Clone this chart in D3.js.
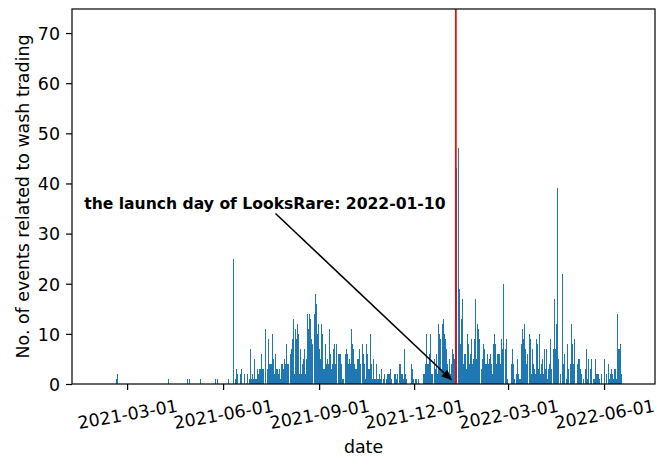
<!DOCTYPE html>
<html lang="en">
<head>
<meta charset="UTF-8">
<title>Wash trading events per day</title>
<script src="https://d3js.org/d3.v7.min.js"></script>
<style>
  body { margin: 0; background: #fff; }
  svg text { font-family: "DejaVu Sans", sans-serif; fill: #000; }
</style>
</head>
<body>
<svg id="chart" width="663" height="459"></svg>
<script>
// days covered by the daily series (zero days included)
const seriesStart = "2021-02-02", seriesEnd = "2022-06-24";

// sparse early days
const earlyDates = ["2021-02-19", "2021-02-20", "2021-04-10", "2021-04-28", "2021-04-30", "2021-05-10", "2021-05-25", "2021-05-27"];
const earlyCounts = [1, 2, 1, 1, 1, 1, 1, 1];

// one value per day from dailyStart
const dailyStart = "2021-06-01";
const dailyCounts = [
  0,0,0,0,0,1,0,0,0,0,25,0,1,3,2,0,0,2,3,0,2,0,0,2,0,
  1,7,1,2,1,5,1,1,3,2, 3,3,6,3,3,0,11,3,9,4, 4,4,10,5,2,6,3,3,2,3,
  1,4,4,3,5,4,8,4,4,6, 7,9,13,2,11,9,12,10,2,7, 2,4,5,7,2,5,14,11,
  14,13,9,8,14,18,16,10,12,7, 5,12,10,3,3,8,4,5,4,11, 6,3,4,7,8,4,8,6,6,6,
  4,1,1,0,6,7,6,4,5,4, 11,8,7,4,3,3,5,5,7,4, 8,6,4,1,8,6,3,3,10,4,
  1,5,1,1,4,1,1,2,1,3, 0,1,2,1,2,2,
  2,
  3,1,0,0,2,2,1,2,0,4, 4,2,2,1,7,2,1,0,0,0, 4,3,1,0,1,1,0,1,0,0,
  0,0,2,2,4,10,4,4,6,10, 2,2,5,3,6,2,12,10,9,3, 12,13,10,9,7,4,2,5,2,4, 7,6,5,
  5,43,47,19,8,13,17,
  4,6,6,3,10,8,4,6,9, 4,5,9,17,5,12,11,9,3,5, 8,7,4,4,6,4,5,6,4,2,
  8,10,8,4,6,6,6,4,9,7, 20,7,9,1,0,0,0,4,7,4, 1,0,2,5,2,1,1,8,11,9, 12,7,4,6,
  10,9,2,7,4,3,2,9,8,3, 10,2,4,5,2,7,3,7,1,3, 4,9,3,7,17,7,12,39,5,0,
  2,0,22,4,6,0,1,8,3,0, 4,12,8,4,9,0,4,5,5,3, 2,0,1,0,3,7,1,5,0,3, 5,0,1,1,5,2,
  2,2,1,2,0,0,5,0,2,0, 4,1,2,3,2,1,3,3,1,14, 7,7,8,2
];

const tickDates = ["2021-03-01", "2021-06-01", "2021-09-01", "2021-12-01", "2022-03-01", "2022-06-01"];
const yTicks = [0, 10, 20, 30, 40, 50, 60, 70];
const yMax = 74.8;

const launchDate = "2022-01-10";
const noteText = "the launch day of LooksRare: 2022-01-10";
const noteDate = "2021-07-11", noteValue = 35;

const W = 663, H = 459;
const m = {left: 72, right: 8, top: 9, bottom: 75};
const DAY = 864e5;
const FS = 17.4;          // 10pt at the figure's dpi
const parse = d3.utcParse("%Y-%m-%d");

const rows = earlyDates.map((d, i) => ({date: parse(d), value: earlyCounts[i]}));
const d0 = parse(dailyStart);
dailyCounts.forEach((v, i) => rows.push({date: new Date(+d0 + i * DAY), value: v}));

// matplotlib-like autoscale: bar extent plus 5% margins
const lo = +parse(seriesStart) - 0.4 * DAY, hi = +parse(seriesEnd) + 0.4 * DAY;
const pad = (hi - lo) * 0.05;

const x = d3.scaleUtc()
  .domain([new Date(lo - pad), new Date(hi + pad)])
  .range([m.left, W - m.right]);
const y = d3.scaleLinear()
  .domain([0, yMax])
  .range([H - m.bottom, m.top]);

const svg = d3.select("#chart");

const barL = d => Math.round(x(new Date(+d.date - 0.4 * DAY)));
const barR = d => Math.round(x(new Date(+d.date + 0.4 * DAY)));

svg.append("g")
  .selectAll("rect")
  .data(rows.filter(r => r.value > 0))
  .join("rect")
    .attr("x", barL)
    .attr("width", d => Math.max(1, barR(d) - barL(d)))
    .attr("y", d => y(d.value))
    .attr("height", d => y(0) - y(d.value))
    .attr("fill", "#1f77b4")
    .attr("shape-rendering", "crispEdges");

// launch day marker
const xl = x(parse(launchDate));
svg.append("line")
  .attr("x1", xl).attr("x2", xl)
  .attr("y1", m.top).attr("y2", H - m.bottom)
  .attr("stroke", "red")
  .attr("stroke-width", 1.7);

// axes
const xAxis = svg.append("g")
  .attr("transform", `translate(0,${H - m.bottom})`)
  .call(d3.axisBottom(x)
    .tickValues(tickDates.map(parse))
    .tickFormat(d3.utcFormat("%Y-%m-%d"))
    .tickSize(6)
    .tickSizeOuter(0));
xAxis.select(".domain").remove();
xAxis.selectAll(".tick line").attr("stroke", "#000").attr("stroke-width", 1.2);
xAxis.selectAll(".tick text")
  .attr("font-size", FS)
  .attr("font-family", "DejaVu Sans")
  .attr("text-anchor", "middle")
  .attr("y", 0)
  .attr("dy", "0.365em")
  .attr("transform", "translate(0,30) rotate(-10)");

const yAxis = svg.append("g")
  .attr("transform", `translate(${m.left},0)`)
  .call(d3.axisLeft(y)
    .tickValues(yTicks)
    .tickSize(6)
    .tickPadding(6)
    .tickSizeOuter(0));
yAxis.select(".domain").remove();
yAxis.selectAll(".tick line").attr("stroke", "#000").attr("stroke-width", 1.2);
yAxis.selectAll(".tick text")
  .attr("font-size", FS)
  .attr("font-family", "DejaVu Sans")
  .attr("dy", "0.365em");

svg.append("rect")
  .attr("x", m.left).attr("y", m.top)
  .attr("width", W - m.left - m.right)
  .attr("height", H - m.top - m.bottom)
  .attr("fill", "none")
  .attr("stroke", "#000")
  .attr("stroke-width", 1.2);

svg.append("text")
  .attr("x", (m.left + W - m.right) / 2)
  .attr("y", 453)
  .attr("text-anchor", "middle")
  .attr("font-size", FS)
  .text("date");

svg.append("text")
  .attr("transform", `translate(28.5,${(m.top + H - m.bottom) / 2}) rotate(-90)`)
  .attr("text-anchor", "middle")
  .attr("font-size", FS)
  .text("No. of events related to wash trading");

// annotation with arrow
const note = svg.append("text")
  .attr("x", x(parse(noteDate)))
  .attr("y", y(noteValue))
  .attr("text-anchor", "middle")
  .attr("font-size", 15.6)
  .attr("font-weight", "bold")
  .text(noteText);

const bb = note.node().getBBox();
const cx = bb.x + bb.width / 2, cy = bb.y + bb.height / 2;
const tx = xl, ty = y(0);
const dx = tx - cx, dy = ty - cy;
const tEdge = (bb.height / 2 + 1) / dy;
const sx = cx + dx * tEdge, sy = cy + dy * tEdge;
const len = Math.hypot(tx - sx, ty - sy);
const ux = (tx - sx) / len, uy = (ty - sy) / len;
const ex = tx - ux * 5, ey = ty - uy * 5;
const headL = 11, headW = 4.5;
const bx = ex - ux * headL, by = ey - uy * headL;

svg.append("line")
  .attr("x1", sx).attr("y1", sy)
  .attr("x2", bx).attr("y2", by)
  .attr("stroke", "#000")
  .attr("stroke-width", 1.6);
svg.append("path")
  .attr("d", `M${ex},${ey}L${bx - uy * headW},${by + ux * headW}L${bx + uy * headW},${by - ux * headW}Z`)
  .attr("fill", "#000");
</script>
</body>
</html>
